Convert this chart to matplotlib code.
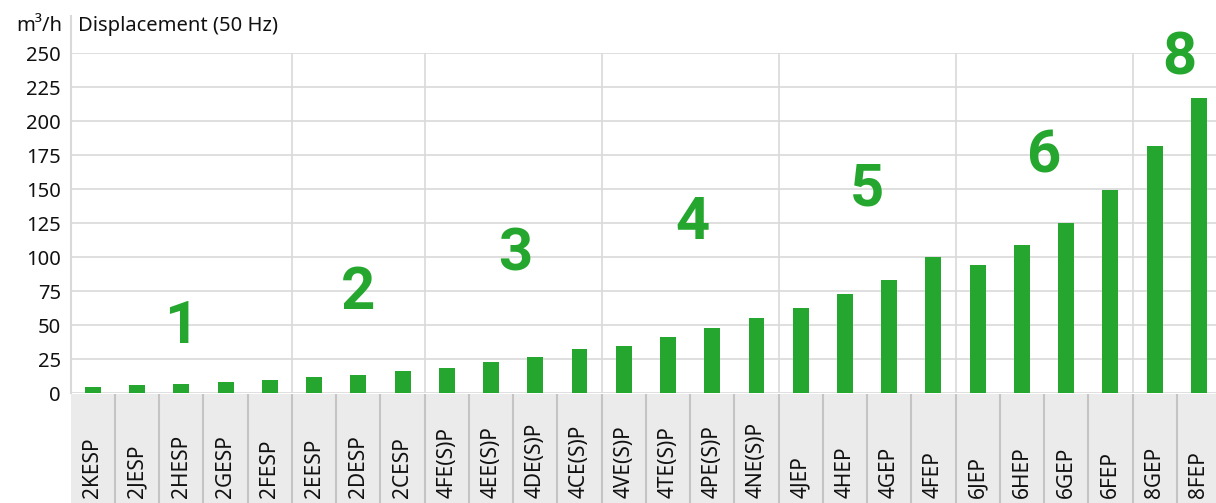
import matplotlib.pyplot as plt

# data
models = ["2KESP", "2JESP", "2HESP", "2GESP", "2FESP",
          "2EESP", "2DESP", "2CESP",
          "4FE(S)P", "4EE(S)P", "4DE(S)P", "4CE(S)P",
          "4VE(S)P", "4TE(S)P", "4PE(S)P", "4NE(S)P",
          "4JEP", "4HEP", "4GEP", "4FEP",
          "6JEP", "6HEP", "6GEP", "6FEP",
          "8GEP", "8FEP"]
displacement = [4.9, 6.3, 7.1, 8.5, 10.0,
                12.2, 13.7, 16.6,
                18.8, 23.2, 26.9, 32.8,
                35.0, 41.6, 48.2, 55.6,
                63.0, 73.2, 83.5, 100.5,
                94.6, 109.3, 125.5, 149.7,
                182.0, 217.4]
# group number labels and where they sit
group_labels = ["1", "2", "3", "4", "5", "6", "8"]
group_x = [2.0, 6.0, 9.55, 13.55, 17.5, 21.5, 24.55]
group_y = [48.8, 73.4, 102.4, 124.9, 149.9, 174.0, 246.0]
# group boundaries (between categories)
group_breaks = [4.5, 7.5, 11.5, 15.5, 19.5, 23.5]

green = "#25a72f"
grid_c = "#d9d9d9"

plt.rcParams['font.family'] = ['Noto Sans', 'DejaVu Sans']

fig = plt.figure(figsize=(12.16, 5.03), dpi=100)
W, H = 1216, 503
x0, x1 = 70.75, 1221
y_zero, y_top = 393.3, 53.3
ax = fig.add_axes([x0 / W, (H - y_zero) / H, (x1 - x0) / W, (y_zero - y_top) / H])

xs = list(range(len(models)))
ax.bar(xs, displacement, width=0.36, color=green, zorder=3)
ax.set_xlim(-0.5, len(models) - 0.5)
ax.set_ylim(0, 250)
ax.set_yticks(range(0, 251, 25))
ax.set_xticks([])
ax.tick_params(axis='y', length=0, pad=7, labelsize=14.5, colors="#111111")
ax.grid(axis='y', color=grid_c, linewidth=1.2, zorder=0)
for b in group_breaks:
    ax.axvline(b, color=grid_c, linewidth=1.2, zorder=0)
for s in ["top", "right", "bottom"]:
    ax.spines[s].set_visible(False)
ax.spines["left"].set_visible(False)
ax.plot([0, 0], [0, 1.11], transform=ax.transAxes, color=grid_c,
        linewidth=1.5, clip_on=False, zorder=1)

for lab, gx, gy in zip(group_labels, group_x, group_y):
    ax.text(gx, gy, lab, color=green, fontsize=43, fontweight='bold',
            family='Roboto', ha='center', va='center', zorder=4)

# label band below the axis
band = fig.add_axes([x0 / W, 0, (x1 - x0) / W, (H - y_zero - 1) / H])
band.set_facecolor("#ebebeb")
band.set_xlim(-0.5, len(models) - 0.5)
band.set_ylim(0, 1)
band.set_xticks([])
band.set_yticks([])
for s in band.spines.values():
    s.set_visible(False)
for i in range(1, len(models)):
    band.axvline(i - 0.5, color="#c4c4c4", linewidth=1.5)
for i, m in enumerate(models):
    band.text(i, 0.045, m, rotation=90, ha='center', va='bottom',
              fontsize=15, color="#111111")

fig.text(62 / W, 1 - 26 / H, "m³/h", ha='right', va='center', fontsize=14.5, color="#111111")
fig.text(78 / W, 1 - 26 / H, "Displacement (50 Hz)", ha='left', va='center',
         fontsize=14.5, color="#111111")

plt.savefig("out.png", dpi=100)
